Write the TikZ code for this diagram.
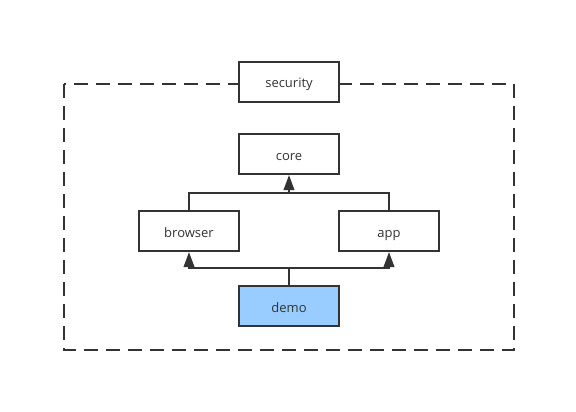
\documentclass[tikz,border=0pt]{standalone}
\usepackage{fontspec}
\setmainfont{Open Sans}
\usetikzlibrary{arrows.meta,positioning}
\definecolor{ln}{HTML}{333333}
\definecolor{demoblue}{HTML}{99CCFF}
\tikzset{
  box/.style={draw=ln,line width=2pt,fill=white,minimum width=100pt,minimum height=40pt,inner sep=0pt,text height=12pt,text depth=0pt,font=\fontsize{13}{15}\selectfont,text=ln},
  arr/.style={draw=ln,line width=2pt,-{Triangle[width=10.5pt,length=15pt]}}
}
\begin{document}
\begin{tikzpicture}[x=1pt,y=-1pt,line join=miter]
\useasboundingbox (0,0) rectangle (576,412);
\draw[ln,line width=2.8pt,dash pattern=on 14pt off 8pt] (64,84) rectangle (514,350);
\node[box] (security) at (289,82) {security};
\node[box] (core) at (289,154) {core};
\node[box] (browser) at (189,231) {browser};
\node[box] (app) at (389,231) {app};
\node[box,fill=demoblue] (demo) at (289,306) {demo};
\coordinate (up) at (289,193);
\coordinate (down) at (289,268);
\draw[ln,line width=2pt] (browser.north) |- (up) -| (app.north);
\draw[arr] (up) -- (core.south);
\draw[ln,line width=2pt] (demo.north) -- (down);
\draw[arr] (down) -| (browser.south);
\draw[arr] (down) -| (app.south);
\end{tikzpicture}
\end{document}
